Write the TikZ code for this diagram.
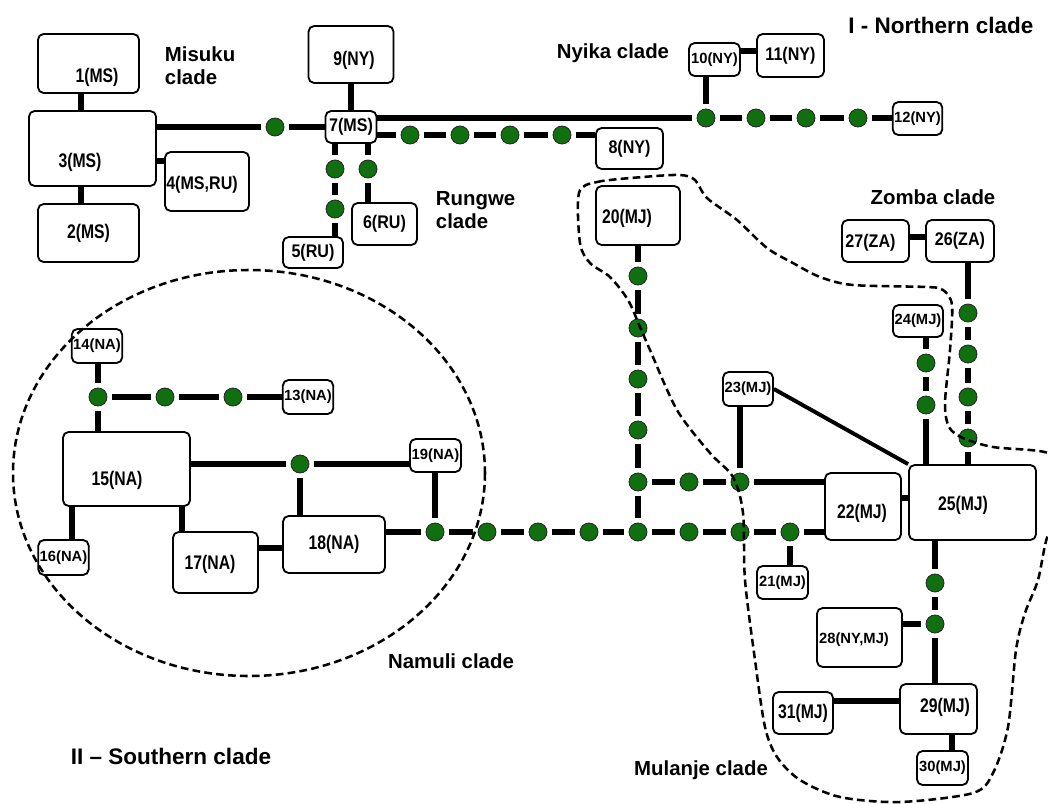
\documentclass[tikz,border=0pt]{standalone}
\usepackage{fontspec}
\setmainfont{Liberation Sans}
\newfontfamily\narrowsans{Liberation Sans}[FakeStretch=0.8]
\newfontfamily\semisans{Liberation Sans}[FakeStretch=0.88]
\definecolor{hapgreen}{RGB}{16,112,16}
\tikzset{
  box/.style={draw, line width=1.3pt, rounded corners=4pt, fill=white, inner sep=1pt},
  wd/.style={minimum width=#1*0.025cm},
  ht/.style={minimum height=#1*0.025cm},
  bigtxt/.style={font=\narrowsans\bfseries\fontsize{14}{16}\selectfont},
  midtxt/.style={font=\semisans\bfseries\fontsize{13}{15}\selectfont},
  smalltxt/.style={font=\bfseries\fontsize{10.5}{12}\selectfont},
  hap/.style={circle, draw=black!85, line width=0.6pt, fill=hapgreen,
              minimum size=0.45cm, inner sep=0pt, outer sep=3.6pt},
  link/.style={line width=4.2pt},
  clade/.style={font=\bfseries\fontsize{14.5}{16.5}\selectfont, align=left},
  group/.style={font=\bfseries\fontsize{16}{18}\selectfont},
  outline/.style={line width=1.8pt, dash pattern=on 5.5pt off 3pt}
}

\begin{document}
\begin{tikzpicture}[x=0.025cm, y=-0.025cm]
  \useasboundingbox (0,0) rectangle (1048,804);

  % haplotypes, northern clade
  \node[box, wd=101, ht=59, label={[bigtxt, shift={(8.5,13.5)}]center:1(MS)}] (n1) at (88.5,63.5) {};
  \node[box, wd=101, ht=58, bigtxt] (n2) at (88.5,233) {2(MS)};
  \node[box, wd=127, ht=75, label={[bigtxt, shift={(-12.5,13.5)}]center:3(MS)}] (n3) at (92.5,148.5) {};
  \node[box, wd=84, ht=59, label={[midtxt, shift={(-5,3.5)}]center:4(MS,RU)}] (n4) at (207,181.5) {};
  \node[box, wd=60, ht=31, midtxt] (n5) at (313,252.5) {5(RU)};
  \node[box, wd=65, ht=42, midtxt] (n6) at (384.5,224) {6(RU)};
  \node[box, wd=51, ht=32, midtxt] (n7) at (351,127) {7(MS)};
  \node[box, wd=67, ht=41, midtxt] (n8) at (629.5,148.5) {8(NY)};
  \node[box, wd=85, ht=57, label={[bigtxt, shift={(3,5.5)}]center:9(NY)}] (n9) at (351,54.5) {};
  \node[box, wd=51, ht=33, smalltxt] (n10) at (714.5,59.5) {10(NY)};
  \node[box, wd=67, ht=43, midtxt] (n11) at (790.5,55.5) {11(NY)};
  \node[box, wd=49, ht=33, smalltxt] (n12) at (917.5,118.5) {12(NY)};

  % haplotypes, namuli
  \node[box, wd=50, ht=34, smalltxt] (n13) at (308,397) {13(NA)};
  \node[box, wd=50, ht=34, smalltxt] (n14) at (97,346) {14(NA)};
  \node[box, wd=127, ht=74, label={[bigtxt, shift={(-9.5,11)}]center:15(NA)}] (n15) at (126.5,469) {};
  \node[box, wd=49, ht=35, smalltxt] (n16) at (63.5,557.5) {16(NA)};
  \node[box, wd=85, ht=61, label={[bigtxt, shift={(-5.5,1.5)}]center:17(NA)}] (n17) at (215.5,562.5) {};
  \node[box, wd=102, ht=57, bigtxt] (n18) at (334,544.5) {18(NA)};
  \node[box, wd=51, ht=33, smalltxt] (n19) at (435.5,455.5) {19(NA)};

  % haplotypes, mulanje and zomba
  \node[box, wd=84, ht=59, label={[bigtxt, shift={(-11,2.5)}]center:20(MJ)}] (n20) at (638,215.5) {};
  \node[box, wd=51, ht=33, smalltxt] (n21) at (782.5,582.5) {21(MJ)};
  \node[box, wd=76, ht=67, label={[bigtxt, shift={(-1,6.5)}]center:22(MJ)}] (n22) at (863,506.5) {};
  \node[box, wd=50, ht=34, smalltxt] (n23) at (748,389) {23(MJ)};
  \node[box, wd=50, ht=32, smalltxt] (n24) at (918,321) {24(MJ)};
  \node[box, wd=127, ht=75, label={[bigtxt, shift={(-9.5,2.5)}]center:25(MJ)}] (n25) at (972.5,502.5) {};
  \node[box, wd=68, ht=42, midtxt] (n26) at (960,241) {26(ZA)};
  \node[box, wd=67, ht=42, label={[midtxt, shift={(-5,2)}]center:27(ZA)}] (n27) at (875.5,241) {};
  \node[box, wd=85, ht=59, label={[smalltxt, shift={(-5.5,2.5)}]center:28(NY,MJ)}] (n28) at (859.5,637.5) {};
  \node[box, wd=77, ht=50, label={[bigtxt, shift={(6.5,-2)}]center:29(MJ)}] (n29) at (938.5,709) {};
  \node[box, wd=51, ht=34, smalltxt] (n30) at (942.5,768) {30(MJ)};
  \node[box, wd=60, ht=42, bigtxt] (n31) at (803,713) {31(MJ)};

  % missing haplotypes
  \node[hap] (d1) at (275,127) {};
  \node[hap] (r1) at (335,169) {};
  \node[hap] (r2) at (335,209) {};
  \node[hap] (r3) at (368,169) {};
  \foreach \x [count=\i] in {410,460,510,562} \node[hap] (a\i) at (\x,135) {};
  \foreach \x [count=\i] in {706,756,806,858} \node[hap] (b\i) at (\x,118) {};
  \foreach \x [count=\i] in {98,165,233} \node[hap] (c\i) at (\x,397) {};
  \node[hap] (c4) at (300,464) {};
  \foreach \x [count=\i] in {435,487,538,589,638,689,740,790} \node[hap] (s\i) at (\x,532) {};
  \foreach \y [count=\i] in {276,328,379,430,482} \node[hap] (m\i) at (638,\y) {};
  \node[hap] (m6) at (689,482) {};
  \node[hap] (m7) at (740,482) {};
  \node[hap] (z1) at (926,363) {};
  \node[hap] (z2) at (926,405) {};
  \foreach \y [count=\i from 3] in {313,354,397,438} \node[hap] (z\i) at (968,\y) {};
  \node[hap] (k1) at (935,583) {};
  \node[hap] (k2) at (935,624) {};

  % links
  \draw[link] (n1.south -| 81,0) -- (n3.north -| 81,0);
  \draw[link] (n3.south -| 81,0) -- (n2.north -| 81,0);
  \draw[link] (n3.east |- 0,161) -- (n4.west |- 0,161);
  \draw[link] (n3.east |- d1) -- (d1) -- (n7.west);
  \draw[link] (n9) -- (n7);
  \draw[link] (n7.east |- b1) -- (b1) -- (b2) -- (b3) -- (b4) -- (n12.west |- b4);
  \draw[link] (n10.south -| b1) -- (b1);
  \draw[link] (n10.east |- 0,51) -- (n11.west |- 0,51);
  \draw[link] (n7.east |- a1) -- (a1) -- (a2) -- (a3) -- (a4) -- (n8.west |- a4);
  \draw[link] (n7.south -| r1) -- (r1) -- (r2) -- (n5.north -| r2);
  \draw[link] (n7.south -| r3) -- (r3) -- (n6.north -| r3);

  \draw[link] (n14.south -| c1) -- (c1) -- (n15.north -| c1);
  \draw[link] (c1) -- (c2) -- (c3) -- (n13.west |- c3);
  \draw[link] (n15.east |- c4) -- (c4) -- (n19.west |- c4);
  \draw[link] (c4) -- (n18.north -| c4);
  \draw[link] (n15.south -| 72,0) -- (n16.north -| 72,0);
  \draw[link] (n15.south -| 182,0) -- (n17.north -| 182,0);
  \draw[link] (n17.east |- 0,548) -- (n18.west |- 0,548);
  \draw[link] (n19.south -| s1) -- (s1);
  \draw[link] (n18.east |- s1) -- (s1) -- (s2) -- (s3) -- (s4) -- (s5) -- (s6) -- (s7) -- (s8) -- (n22.west |- s8);
  \draw[link] (s8) -- (n21.north -| s8);

  \draw[link] (n20.south -| m1) -- (m1) -- (m2) -- (m3) -- (m4) -- (m5) -- (s5);
  \draw[link] (m5) -- (m6) -- (m7) -- (n22.west |- m7);
  \draw[link] (n23.south -| m7) -- (m7);
  \draw[line width=2.8pt] (n23.east) -- (n25.north west);
  \draw[link] (n22.east |- 0,498) -- (n25.west |- 0,498);
  \draw[link] (n24.south -| z1) -- (z1) -- (z2) -- (n25.north -| z2);
  \draw[link] (n26.south -| z3) -- (z3) -- (z4) -- (z5) -- (z6) -- (n25.north -| z6);
  \draw[link] (n27.east |- 0,237) -- (n26.west |- 0,237);
  \draw[link] (n25.south -| k1) -- (k1) -- (k2) -- (n29.north -| k2);
  \draw[link] (n28.east |- k2) -- (k2);
  \draw[link] (n31.east |- 0,701) -- (n29.west |- 0,701);
  \draw[link] (n29.south -| 952,0) -- (n30.north -| 952,0);

  % clade outlines
  \draw[outline] (249,473) ellipse [x radius=236, y radius=203];
  \draw[outline] plot[smooth cycle] coordinates {
    (579,193) (597,182) (643,177) (680,175) (695,180) (707,198) (737,220)
    (767,248) (793,263) (820,277) (853,285) (927,287) (943,290) (952,305)
    (950,350) (945,403) (949,427) (963,438) (993,447) (1048,453) (1066,475)
    (1066,515) (1048,535) (1038,580) (1025,613) (1016,650) (1008,727)
    (993,773) (973,793) (900,802) (840,797) (800,780) (777,757) (765,727)
    (755,660) (745,580) (743,513) (733,477) (710,453) (677,410) (650,350)
    (640,327) (628,300) (610,277) (590,263) (580,243)};

  % labels
  \node[clade, anchor=west] (lmisuku) at (160,66) {Misuku\\clade};
  \node[clade, anchor=west] (lrungwe) at (431,210) {Rungwe\\clade};
  \node[clade] (lnyika) at (613,53) {Nyika clade};
  \node[clade] (lzomba) at (933,197) {Zomba clade};
  \node[clade] (lnamuli) at (451,661) {Namuli clade};
  \node[clade] (lmulanje) at (701,770) {Mulanje clade};
  \node[group] (lnorth) at (941,25) {I - Northern clade};
  \node[group] (lsouth) at (171,756) {II -- Southern clade};
\end{tikzpicture}
\end{document}
